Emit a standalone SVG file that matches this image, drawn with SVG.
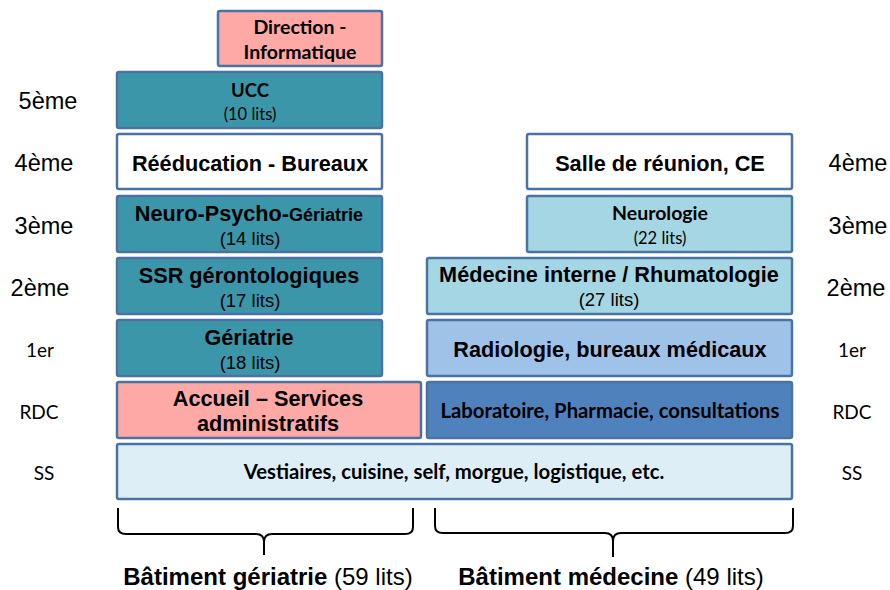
<svg xmlns="http://www.w3.org/2000/svg" width="890" height="590" viewBox="0 0 890 590">
<style>
.box{stroke:#4A73A4;stroke-width:2.5}
.teal{fill:#3C96AA}
.pink{fill:#FFA9A6}
.white{fill:#FFFFFF}
.lblue{fill:#A5D6E3}
.rblue{fill:#9EC2E8}
.dblue{fill:#4F82BC}
.sblue{fill:#DEEEF6}
text{fill:#000;text-anchor:middle}
.a{font-family:"Liberation Sans",Arial,sans-serif}
.ab{font-family:"Liberation Sans",Arial,sans-serif;font-weight:bold}
.c{font-family:Lato,"Open Sans",sans-serif}
.cb{font-family:Lato,"Open Sans",sans-serif;font-weight:bold}
.brace{fill:none;stroke:#000;stroke-width:2}
</style>
<rect width="890" height="590" fill="#fff"/>

<g id="direction"><rect class="box pink" x="218" y="11" width="164" height="55" rx="2"/>
<text class="cb" x="300" y="34" font-size="19.5">Direction -</text>
<text class="cb" x="300" y="59" font-size="19.5">Informatique</text></g>

<g id="ucc"><rect class="box teal" x="117" y="72" width="265" height="56" rx="2"/>
<text class="cb" x="250" y="97" font-size="18.5">UCC</text>
<text class="c" x="250" y="120" font-size="16.5">(10 lits)</text></g>

<g id="reeducation"><rect class="box white" x="117" y="134" width="265" height="55" rx="2"/>
<text class="ab" x="250" y="171" font-size="21.7">Rééducation - Bureaux</text></g>

<g id="neuropsycho"><rect class="box teal" x="117" y="196" width="265" height="56" rx="2"/>
<text class="ab" x="249" y="221" font-size="21.7">Neuro-Psycho-<tspan font-size="18">Gériatrie</tspan></text>
<text class="a" x="250" y="245" font-size="18.5">(14 lits)</text></g>

<g id="ssr"><rect class="box teal" x="117" y="258" width="265" height="56" rx="2"/>
<text class="ab" x="249" y="283" font-size="21.7">SSR gérontologiques</text>
<text class="a" x="250" y="307" font-size="18.5">(17 lits)</text></g>

<g id="geriatrie"><rect class="box teal" x="117" y="320" width="265" height="56" rx="2"/>
<text class="ab" x="249" y="345" font-size="21.7">Gériatrie</text>
<text class="a" x="250" y="369" font-size="18.5">(18 lits)</text></g>

<g id="accueil"><rect class="box pink" x="117" y="382" width="304" height="56" rx="2"/>
<text class="ab" x="268" y="406" font-size="21.7">Accueil – Services</text>
<text class="ab" x="268" y="431" font-size="21.7">administratifs</text></g>

<g id="salle"><rect class="box white" x="527" y="134" width="265" height="55" rx="2"/>
<text class="ab" x="660" y="171" font-size="21.7">Salle de réunion, CE</text></g>

<g id="neurologie"><rect class="box lblue" x="527" y="196" width="265" height="56" rx="2"/>
<text class="cb" x="660" y="220" font-size="19.5">Neurologie</text>
<text class="c" x="660" y="244" font-size="16.5">(22 lits)</text></g>

<g id="medecine"><rect class="box lblue" x="427" y="258" width="365" height="56" rx="2"/>
<text class="ab" x="609" y="282" font-size="21.7">Médecine interne / Rhumatologie</text>
<text class="a" x="609" y="306" font-size="18.5">(27 lits)</text></g>

<g id="radiologie"><rect class="box rblue" x="427" y="320" width="365" height="56" rx="2"/>
<text class="ab" x="610" y="357" font-size="21.7">Radiologie, bureaux médicaux</text></g>

<g id="laboratoire"><rect class="box dblue" x="427" y="382" width="365" height="56" rx="2"/>
<text class="cb" x="610" y="418" font-size="20.3">Laboratoire, Pharmacie, consultations</text></g>

<g id="ss"><rect class="box sblue" x="117" y="444" width="675" height="55" rx="2"/>
<text class="cb" x="454" y="479" font-size="20.3">Vestiaires, cuisine, self, morgue, logistique, etc.</text></g>

<g id="floors-left">
<text class="a" x="48" y="109" font-size="23.5">5ème</text>
<text class="a" x="44" y="171" font-size="23.5">4ème</text>
<text class="a" x="44" y="234" font-size="23.5">3ème</text>
<text class="a" x="40" y="296" font-size="23.5">2ème</text>
<text class="c" x="40" y="357" font-size="19">1er</text>
<text class="c" x="39" y="419" font-size="19">RDC</text>
<text class="c" x="44" y="480" font-size="19">SS</text>
</g>
<g id="floors-right">
<text class="a" x="858" y="171" font-size="23.5">4ème</text>
<text class="a" x="858" y="234" font-size="23.5">3ème</text>
<text class="a" x="856" y="296" font-size="23.5">2ème</text>
<text class="c" x="852" y="357" font-size="19">1er</text>
<text class="c" x="852" y="419" font-size="19">RDC</text>
<text class="c" x="852" y="480" font-size="19">SS</text>
</g>

<g id="connectors">
<path class="brace" d="M118 508 V527 Q118 534 126 534 H256 Q264 534 264 542 V555 M264 542 Q264 534 272 534 H405 Q413 534 413 527 V508"/>
<path class="brace" d="M435 508 V526 Q435 533 443 533 H605 Q613 533 613 541 V557 M613 541 Q613 533 621 533 H785 Q793 533 793 526 V508"/>
</g>

<g id="labels">
<text x="268" y="585" font-size="24"><tspan class="ab">Bâtiment gériatrie</tspan><tspan class="a"> (59 lits)</tspan></text>
<text x="611" y="585" font-size="24"><tspan class="ab">Bâtiment médecine</tspan><tspan class="a"> (49 lits)</tspan></text>
</g>
</svg>
